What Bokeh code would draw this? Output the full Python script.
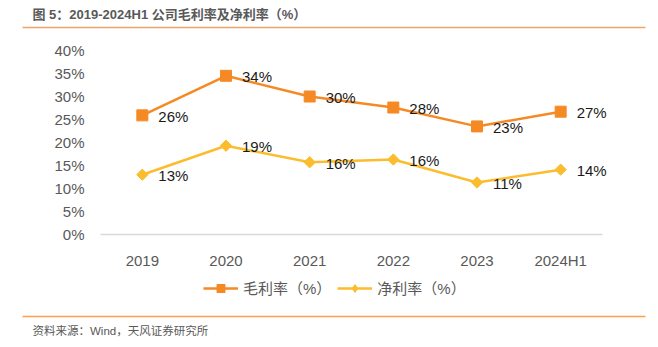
import math
from bokeh.plotting import figure
from bokeh.models import (Range1d, Label, Legend, LegendItem, ColumnDataSource,
                          FixedTicker, LinearAxis, BoxAnnotation)
from bokeh.embed import file_html
from bokeh.resources import INLINE

categories = ["2019", "2020", "2021", "2022", "2023", "2024H1"]
gross_margin = [25.9, 34.5, 30.0, 27.6, 23.5, 26.7]
net_margin = [13.0, 19.3, 15.7, 16.3, 11.3, 14.1]
gross_labels = ["26%", "34%", "30%", "28%", "23%", "27%"]
net_labels = ["13%", "19%", "16%", "16%", "11%", "14%"]
y_ticks = [0, 5, 10, 15, 20, 25, 30, 35, 40]

title_text = "图 5：2019-2024H1 公司毛利率及净利率（%）"
source_text = "资料来源：Wind，天风证券研究所"
legend_names = ["毛利率（%）", "净利率（%）"]

FONT = "Liberation Sans, Noto Sans CJK SC"
ORANGE = "#F58A25"
YELLOW = "#FBBD2E"
GRAY = "#595959"
W, H = 658, 347

# pixel geometry of the plotting area (canvas px, from top-left)
PL, PR, PT, PB = 100.0, 602.0, 50.0, 234.0
n = len(categories)
step = (PR - PL) / n            # px per category
ppu = (PB - PT) / 40.0          # px per percentage point
x_start = -0.5 - PL / step
x_end = x_start + W / step
y_start = -(H - PB) / ppu
y_end = y_start + H / ppu

p = figure(width=W, height=H, x_range=Range1d(x_start, x_end),
           y_range=Range1d(y_start, y_end), output_backend="svg",
           toolbar_location=None, min_border=0, x_axis_location=None,
           y_axis_location=None)
p.outline_line_color = None
p.background_fill_color = "white"
p.border_fill_color = "white"
p.grid.grid_line_color = None

xs = list(range(n))
src = ColumnDataSource(dict(x=xs, g=gross_margin, n=net_margin,
                            gl=gross_labels, nl=net_labels))

p.line("x", "g", source=src, line_color=ORANGE, line_width=2.5)
p.scatter("x", "g", source=src, marker="square", size=11, fill_color=ORANGE,
          line_color=ORANGE)
p.line("x", "n", source=src, line_color=YELLOW, line_width=2.5)
p.scatter("x", "n", source=src, marker="square", angle=math.pi / 4, size=8,
          fill_color=YELLOW, line_color=YELLOW)

for col, ycol in (("gl", "g"), ("nl", "n")):
    p.text("x", ycol, text=col, source=src, x_offset=16, y_offset=1,
           text_baseline="middle", text_align="left", text_font_size="15px",
           text_color="#1a1a1a", text_font={"value": FONT})

# axes placed inside the canvas with fixed_location
xaxis = LinearAxis(fixed_location=0, bounds=(-0.5, n - 0.5),
                   ticker=FixedTicker(ticks=xs),
                   major_label_overrides={i: c for i, c in zip(xs, categories)})
xaxis.axis_line_color = "#D9D9D9"
xaxis.axis_line_width = 1.5
xaxis.major_tick_line_color = None
xaxis.minor_tick_line_color = None
xaxis.major_label_standoff = 11
xaxis.major_label_text_font_size = "15px"
xaxis.major_label_text_color = GRAY
xaxis.major_label_text_font = FONT
p.add_layout(xaxis, "below")

yaxis = LinearAxis(fixed_location=-0.5, bounds=(0, 40),
                   ticker=FixedTicker(ticks=y_ticks),
                   major_label_overrides={t: f"{t}%" for t in y_ticks})
yaxis.axis_line_color = None
yaxis.major_tick_line_color = None
yaxis.minor_tick_line_color = None
yaxis.major_label_standoff = 10
yaxis.major_label_text_font_size = "15px"
yaxis.major_label_text_color = GRAY
yaxis.major_label_text_font = FONT
p.add_layout(yaxis, "left")


def sy(y):  # canvas y (from top) -> screen units (from bottom)
    return H - y


p.add_layout(Label(x=32, y=sy(14), x_units="screen", y_units="screen", text=title_text,
                   text_font_size="13px", text_font_style="bold", text_color=GRAY,
                   text_baseline="middle", text_align="left", text_font=FONT))
p.add_layout(Label(x=32, y=sy(330), x_units="screen", y_units="screen", text=source_text,
                   text_font_size="11.5px", text_color=GRAY, text_baseline="middle",
                   text_align="left", text_font=FONT))
for yy, colr in ((27, "#EDA468"), (316, "#FF9F4A")):
    p.add_layout(BoxAnnotation(left=22, right=645, top=sy(yy - 0.75), bottom=sy(yy + 0.75),
                               left_units="screen", right_units="screen",
                               top_units="screen", bottom_units="screen",
                               fill_color=colr, fill_alpha=1, line_color=None))

# legend-only renderers (their single point lies outside the visible range)
hidden = ColumnDataSource(dict(x=[x_start - 10], y=[y_start - 10]))
lg = p.line("x", "y", source=hidden, line_color=ORANGE, line_width=2.5)
sg = p.scatter("x", "y", source=hidden, marker="square", size=10, fill_color=ORANGE,
               line_color=ORANGE)
ln = p.line("x", "y", source=hidden, line_color=YELLOW, line_width=2.5)
sn = p.scatter("x", "y", source=hidden, marker="diamond", size=13,
               fill_color=YELLOW, line_color=YELLOW)
legend = Legend(items=[LegendItem(label=legend_names[0], renderers=[lg, sg]),
                       LegendItem(label=legend_names[1], renderers=[ln, sn])],
                location=(203, sy(288) - 10), orientation="horizontal",
                glyph_width=35, glyph_height=20, label_standoff=5, spacing=6,
                padding=0, margin=0, border_line_color=None, background_fill_alpha=0,
                label_text_font_size="15px", label_text_color=GRAY, label_text_font=FONT,
                label_height=20)
p.add_layout(legend)

open("out.html", "w").write(file_html(p, INLINE))
